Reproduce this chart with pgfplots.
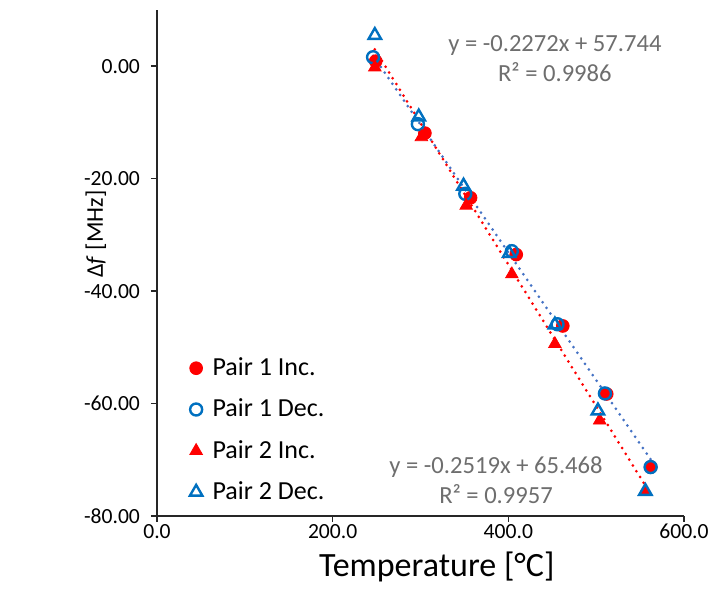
\documentclass[border=0pt]{standalone}
\usepackage{fontspec}
\setmainfont{Carlito}
\usepackage{pgfplots}
\pgfplotsset{compat=1.18}
\usetikzlibrary{calc}
\definecolor{xred}{RGB}{255,0,0}
\definecolor{xblue}{RGB}{0,112,192}
\definecolor{tblue}{RGB}{68,114,196}
\definecolor{eqgray}{RGB}{110,110,110}
\begin{document}
\begin{tikzpicture}
\begin{axis}[
  name=ax, scale only axis, width=263.5pt, height=253pt,
  xmin=0, xmax=600, ymin=-80, ymax=10,
  xtick={0,200,400,600}, ytick={-80,-60,-40,-20,0},
  axis x line*=bottom, axis y line*=left,
  axis line style={black!85, line width=0.75pt},
  tick align=outside, major tick length=3pt,
  tick style={black!85, line width=0.75pt},
  /pgf/number format/assume math mode=true,
  x tick label style={/pgf/number format/.cd, fixed, fixed zerofill, precision=1, /tikz/.cd, yshift=2.5pt},
  y tick label style={/pgf/number format/.cd, fixed, fixed zerofill, precision=2, /tikz/.cd, xshift=-2pt},
  ticklabel style={font=\fontsize{10.8}{13}\selectfont},
  xlabel={Temperature [°C]},
  xlabel style={at={(rel axis cs:0.531,0)}, anchor=center, yshift=-25.5pt, font=\fontsize{17}{20}\selectfont},
  legend style={at={(0.05,0.01)}, anchor=south west, draw=none, fill=none,
    font=\fontsize{13}{15}\selectfont, row sep=6.2pt,
    /tikz/every odd column/.append style={column sep=3pt}},
  legend cell align=left,
  clip=false,
]
\addplot[only marks, mark=*, mark size=3.2pt, color=xred] coordinates {
  (249,0.9) (305,-11.9) (357,-23.4) (409,-33.5) (462,-46.2) (512,-58.3) (562,-71.3)};
\addlegendentry{Pair 1 Inc.}
\addplot[only marks, mark=o, mark size=3pt, color=xblue, mark options={line width=1.2pt}] coordinates {
  (246,1.6) (297,-10.3) (351,-22.7) (404,-32.9) (456,-45.9) (510,-58.2) (562,-71.3)};
\addlegendentry{Pair 1 Dec.}
\addplot[only marks, mark=triangle*, mark size=3.6pt, color=xred] coordinates {
  (248,-0.2) (301,-12.6) (352,-24.8) (404,-37.0) (453,-49.4) (504,-63.0) (556,-75.6)};
\addlegendentry{Pair 2 Inc.}
\addplot[only marks, mark=triangle, mark size=3.6pt, color=xblue, mark options={line width=1.2pt}] coordinates {
  (248,5.5) (298,-9.0) (349,-21.3) (401,-33.3) (453,-46.0) (502,-61.3) (556,-75.6)};
\addlegendentry{Pair 2 Dec.}
% trendlines
\addplot[forget plot, tblue, line width=1.5pt, line cap=round, dash pattern=on 0pt off 3.4pt] coordinates {
  (246,1.85) (562,-69.94)};
\addplot[forget plot, xred, line width=1.5pt, line cap=round, dash pattern=on 0pt off 3.4pt] coordinates {
  (248,3.00) (556,-74.59)};
\node[eqgray, align=center, font=\fontsize{12.3}{15}\selectfont] at (axis cs:453,1.4)
  {y = -0.2272x + 57.744\\R² = 0.9986};
\node[eqgray, align=center, font=\fontsize{12.3}{15}\selectfont] at (axis cs:386,-73.6)
  {y = -0.2519x + 65.468\\R² = 0.9957};
\node[rotate=90, anchor=center, font=\fontsize{12}{14}\selectfont] at (rel axis cs:-0.116,0.557)
  {Δ\textit{f} [MHz]};
\end{axis}
\pgfresetboundingbox
\path ($(ax.south west)+(-78.5pt,-47pt)$) rectangle ($(ax.north east)+(19.5pt,5pt)$);
\end{tikzpicture}
\end{document}
